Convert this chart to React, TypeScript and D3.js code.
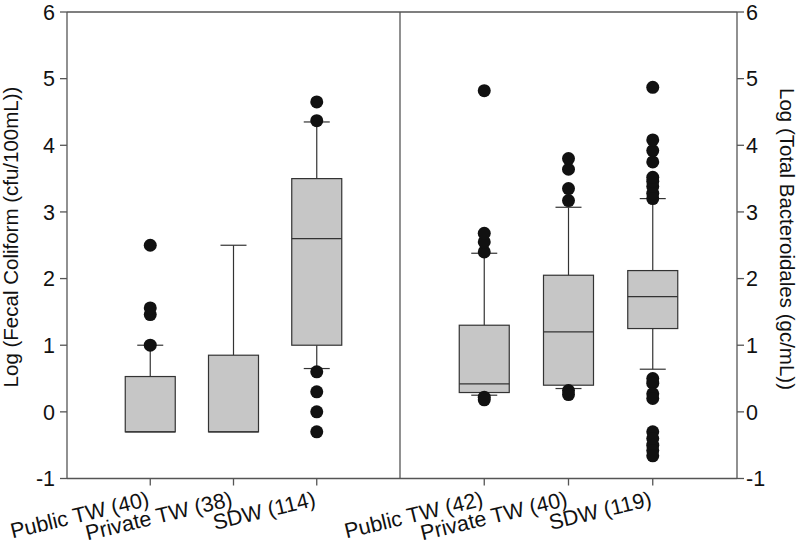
import React from "react";
import * as d3 from "d3";

// Left panel: Fecal Coliform
const leftCategories = ["Public TW (40)", "Private TW (38)", "SDW (114)"];
const leftQ1 = [-0.3, -0.3, 1.0];
const leftMedian = [-0.3, -0.3, 2.6];
const leftQ3 = [0.53, 0.85, 3.5];
const leftWhiskerLow = [-0.3, -0.3, 0.65];
const leftWhiskerHigh = [1.0, 2.5, 4.35];
const leftOutliers = [
  [1.0, 1.46, 1.56, 2.5],
  [],
  [4.37, 4.65, 0.6, 0.3, 0.0, -0.3],
];

// Right panel: Total Bacteroidales
const rightCategories = ["Public TW (42)", "Private TW (40)", "SDW (119)"];
const rightQ1 = [0.29, 0.4, 1.25];
const rightMedian = [0.42, 1.2, 1.73];
const rightQ3 = [1.3, 2.05, 2.12];
const rightWhiskerLow = [0.25, 0.35, 0.64];
const rightWhiskerHigh = [2.38, 3.07, 3.2];
const rightOutliers = [
  [2.4, 2.55, 2.68, 4.82, 0.22, 0.18],
  [3.17, 3.35, 3.64, 3.8, 0.32, 0.26],
  [3.2, 3.28, 3.38, 3.46, 3.52, 3.75, 3.92, 4.08, 4.87, 0.5, 0.43, 0.27, 0.2, -0.3, -0.4, -0.5, -0.58, -0.66],
];

const yTicks = [-1, 0, 1, 2, 3, 4, 5, 6];

const W = 800;
const H = 548;
const xL = 67;
const xMid = 400;
const xR = 737;
const yTop = 12;
const yBot = 478.5;

const AXIS = "#555";
const BOX_STROKE = "#333";
const BOX_FILL = "#c6c6c6";
const FONT = "Arial, 'Liberation Sans', Helvetica, sans-serif";

const y = d3.scaleLinear().domain([-1, 6]).range([yBot, yTop]);

type Panel = {
  cats: string[];
  q1: number[];
  med: number[];
  q3: number[];
  wl: number[];
  wh: number[];
  out: number[][];
  range: [number, number];
};

const panels: Panel[] = [
  { cats: leftCategories, q1: leftQ1, med: leftMedian, q3: leftQ3, wl: leftWhiskerLow, wh: leftWhiskerHigh, out: leftOutliers, range: [xL, xMid] },
  { cats: rightCategories, q1: rightQ1, med: rightMedian, q3: rightQ3, wl: rightWhiskerLow, wh: rightWhiskerHigh, out: rightOutliers, range: [xMid, xR] },
];

const boxW = 50;
const capW = 26;

export default function App() {
  return (
    <svg width={W} height={H} style={{ position: "absolute", left: 0, top: 0, background: "#fff" }} fontFamily={FONT}>
      {panels.map((p, pi) => {
        const x = d3.scalePoint<string>().domain(p.cats).range(p.range).padding(1);
        return (
          <g key={pi}>
            {p.cats.map((c, i) => {
              const cx = x(c)!;
              return (
                <g key={c}>
                  {p.wh[i] > p.q3[i] && (
                    <>
                      <line x1={cx} x2={cx} y1={y(p.q3[i])} y2={y(p.wh[i])} stroke={BOX_STROKE} strokeWidth={1.2} />
                      <line x1={cx - capW / 2} x2={cx + capW / 2} y1={y(p.wh[i])} y2={y(p.wh[i])} stroke={BOX_STROKE} strokeWidth={1.2} />
                    </>
                  )}
                  {p.wl[i] < p.q1[i] && (
                    <>
                      <line x1={cx} x2={cx} y1={y(p.q1[i])} y2={y(p.wl[i])} stroke={BOX_STROKE} strokeWidth={1.2} />
                      <line x1={cx - capW / 2} x2={cx + capW / 2} y1={y(p.wl[i])} y2={y(p.wl[i])} stroke={BOX_STROKE} strokeWidth={1.2} />
                    </>
                  )}
                  <rect x={cx - boxW / 2} y={y(p.q3[i])} width={boxW} height={y(p.q1[i]) - y(p.q3[i])} fill={BOX_FILL} stroke={BOX_STROKE} strokeWidth={1.2} />
                  <line x1={cx - boxW / 2} x2={cx + boxW / 2} y1={y(p.med[i])} y2={y(p.med[i])} stroke={BOX_STROKE} strokeWidth={1.2} />
                  {p.out[i].map((v, k) => (
                    <circle key={k} cx={cx} cy={y(v)} r={6.5} fill="#111" />
                  ))}
                  <line x1={cx} x2={cx} y1={yBot} y2={yBot + 7} stroke={AXIS} strokeWidth={1.3} />
                  <text
                    transform={`translate(${cx},${yBot + 27}) rotate(-13.5)`}
                    textAnchor="end"
                    fontSize={21.5}
                    fill="#111"
                  >
                    {c}
                  </text>
                </g>
              );
            })}
          </g>
        );
      })}

      <line x1={xL} x2={xR} y1={yTop} y2={yTop} stroke={AXIS} strokeWidth={1.3} />
      <line x1={xL} x2={xR} y1={yBot} y2={yBot} stroke={AXIS} strokeWidth={1.3} />
      <line x1={xL} x2={xL} y1={yTop} y2={yBot} stroke={AXIS} strokeWidth={1.3} />
      <line x1={xMid} x2={xMid} y1={yTop} y2={yBot} stroke={AXIS} strokeWidth={1.3} />
      <line x1={xR} x2={xR} y1={yTop} y2={yBot} stroke={AXIS} strokeWidth={1.3} />

      {yTicks.map((t) => (
        <g key={t}>
          <line x1={xL - 7} x2={xL} y1={y(t)} y2={y(t)} stroke={AXIS} strokeWidth={1.3} />
          <text x={xL - 12} y={y(t)} dy="0.36em" textAnchor="end" fontSize={21.5} fill="#111">{t}</text>
          <line x1={xR} x2={xR + 7} y1={y(t)} y2={y(t)} stroke={AXIS} strokeWidth={1.3} />
          <text x={xR + 9} y={y(t)} dy="0.36em" textAnchor="start" fontSize={21.5} fill="#111">{t}</text>
        </g>
      ))}

      <text transform={`translate(18,237) rotate(-90)`} textAnchor="middle" fontSize={20.5} fill="#111">
        Log (Fecal Coliform (cfu/100mL))
      </text>
      <text transform={`translate(780,239) rotate(90)`} textAnchor="middle" fontSize={20.5} fill="#111">
        Log (Total Bacteroidales (gc/mL))
      </text>
    </svg>
  );
}
